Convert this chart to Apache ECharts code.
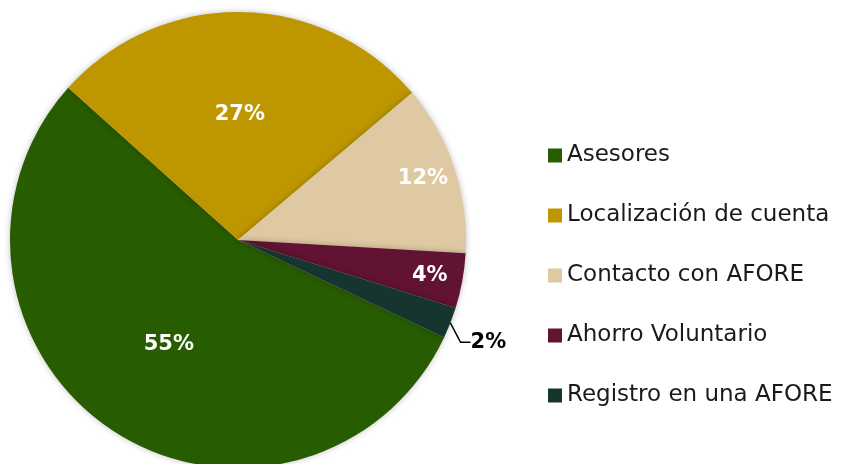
<!DOCTYPE html>
<html>
<head>
<meta charset="utf-8">
<script src="https://cdn.jsdelivr.net/npm/echarts@6/dist/echarts.min.js"></script>
<style>
html, body { margin: 0; padding: 0; background: #fff; }
#chart { width: 852px; height: 464px; }
</style>
</head>
<body>
<div id="chart"></div>
<script>
const categories = ['Asesores', 'Localización de cuenta', 'Contacto con AFORE', 'Ahorro Voluntario', 'Registro en una AFORE'];
const values = [54.6, 27.2, 12.1, 3.9, 2.2];
const colors = ['#285C00', '#BE9600', '#DFC9A3', '#621232', '#17352F'];

// which slices get their label near the middle, near the rim, or outside
const midLabels = [0, 1];
const rimLabels = [2, 3];
const outsideLabels = [4];

const font = '"DejaVu Sans", sans-serif';
const pct = p => Math.round(p.percent) + '%';

const makeData = show => categories.map((name, i) => ({
    name: name,
    value: values[i],
    label: {show: show.indexOf(i) >= 0}
}));

const overlay = (radius, show) => ({
    type: 'pie',
    silent: true,
    center: [238, 240],
    radius: radius,
    startAngle: -25.3,
    clockwise: true,
    itemStyle: {color: 'transparent'},
    labelLine: {show: false},
    label: {
        position: 'inside',
        formatter: pct,
        color: '#fff',
        fontFamily: font,
        fontWeight: 'bold',
        fontSize: 21
    },
    data: makeData(show)
});

const chart = echarts.init(document.getElementById('chart'));
chart.setOption({
    animation: false,
    color: colors,
    legend: {
        orient: 'vertical',
        left: 543,
        top: 139,
        itemWidth: 14,
        itemHeight: 14,
        itemGap: 37,
        icon: 'rect',
        data: categories,
        textStyle: {
            fontFamily: font,
            fontSize: 23,
            lineHeight: 22,
            color: '#1a1a1a'
        }
    },
    series: [
        {
            type: 'pie',
            center: [238, 240],
            radius: [0, 228],
            startAngle: -25.3,
            clockwise: true,
            itemStyle: {
                shadowBlur: 6,
                shadowColor: 'rgba(0,0,0,0.25)'
            },
            label: {
                position: 'outside',
                formatter: pct,
                color: '#000',
                fontFamily: font,
                fontWeight: 'bold',
                fontSize: 21
            },
            labelLine: {
                length: 12,
                length2: 10,
                lineStyle: {color: '#000', width: 1.5}
            },
            // push the small outside label down, so the leader line bends under the slice
            labelLayout: p => {
                if (p.dataIndex !== 4) return {};
                const r = p.labelRect;
                return {x: r.x - 6, y: r.y + r.height / 2 + 15};
            },
            data: makeData(outsideLabels)
        },
        overlay([16, 228], midLabels),
        overlay([156, 228], rimLabels)
    ]
});
</script>
</body>
</html>
